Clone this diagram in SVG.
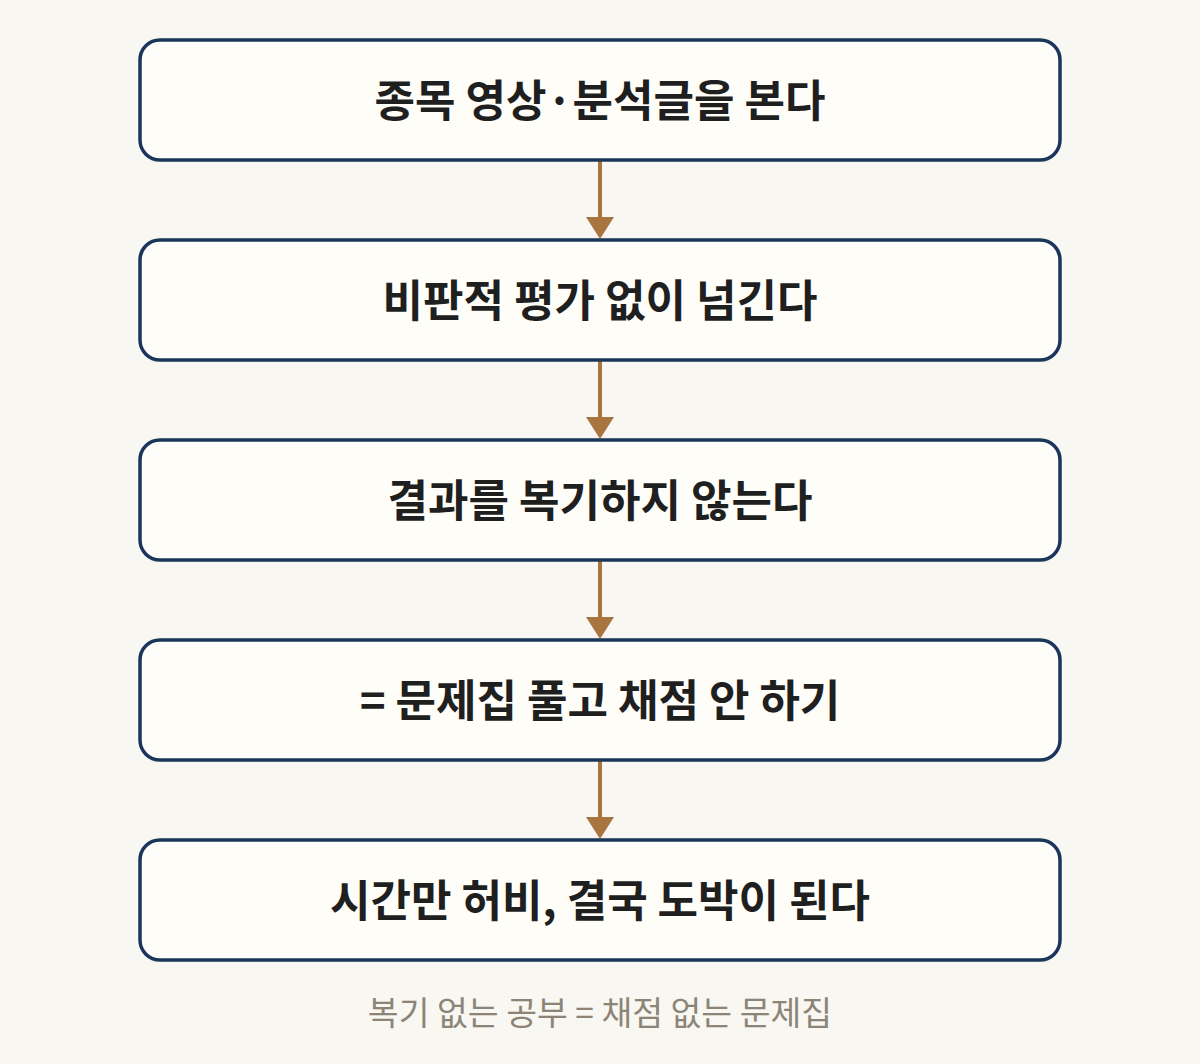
<svg xmlns="http://www.w3.org/2000/svg" width="1200" height="1064" viewBox="0 0 1200 1064">
<defs>
<style>
.box{fill:#fefdf8;stroke:#1c355a;stroke-width:3.5}
.lbl{font-family:"Noto Sans CJK KR","Noto Sans",sans-serif;font-weight:700;font-size:44px;fill:#1f1f1f;text-anchor:middle;dominant-baseline:central}
.conn{stroke:#a8743f;stroke-width:4;fill:none}
.head{fill:#a8743f}
.foot{font-family:"Noto Sans CJK KR","Noto Sans",sans-serif;font-size:33.5px;fill:#8c8577;text-anchor:middle;dominant-baseline:central}
</style>
</defs>
<rect width="1200" height="1064" fill="#f9f7f1"/>
<g id="connectors">
<line class="conn" x1="600" y1="160" x2="600" y2="218"/>
<path class="head" d="M586,217 L614,217 L600,239 Z"/>
<line class="conn" x1="600" y1="360" x2="600" y2="418"/>
<path class="head" d="M586,417 L614,417 L600,439 Z"/>
<line class="conn" x1="600" y1="560" x2="600" y2="618"/>
<path class="head" d="M586,617 L614,617 L600,639 Z"/>
<line class="conn" x1="600" y1="760" x2="600" y2="818"/>
<path class="head" d="M586,817 L614,817 L600,839 Z"/>
</g>
<g id="n1"><rect class="box" x="140" y="40" width="920" height="120" rx="20"/><text class="lbl" x="600" y="98">종목 영상·분석글을 본다</text></g>
<g id="n2"><rect class="box" x="140" y="240" width="920" height="120" rx="20"/><text class="lbl" x="600" y="298">비판적 평가 없이 넘긴다</text></g>
<g id="n3"><rect class="box" x="140" y="440" width="920" height="120" rx="20"/><text class="lbl" x="600" y="498">결과를 복기하지 않는다</text></g>
<g id="n4"><rect class="box" x="140" y="640" width="920" height="120" rx="20"/><text class="lbl" x="600" y="698">= 문제집 풀고 채점 안 하기</text></g>
<g id="n5"><rect class="box" x="140" y="840" width="920" height="120" rx="20"/><text class="lbl" x="600" y="898">시간만 허비, 결국 도박이 된다</text></g>
<text class="foot" x="600" y="1010">복기 없는 공부 = 채점 없는 문제집</text>
</svg>
